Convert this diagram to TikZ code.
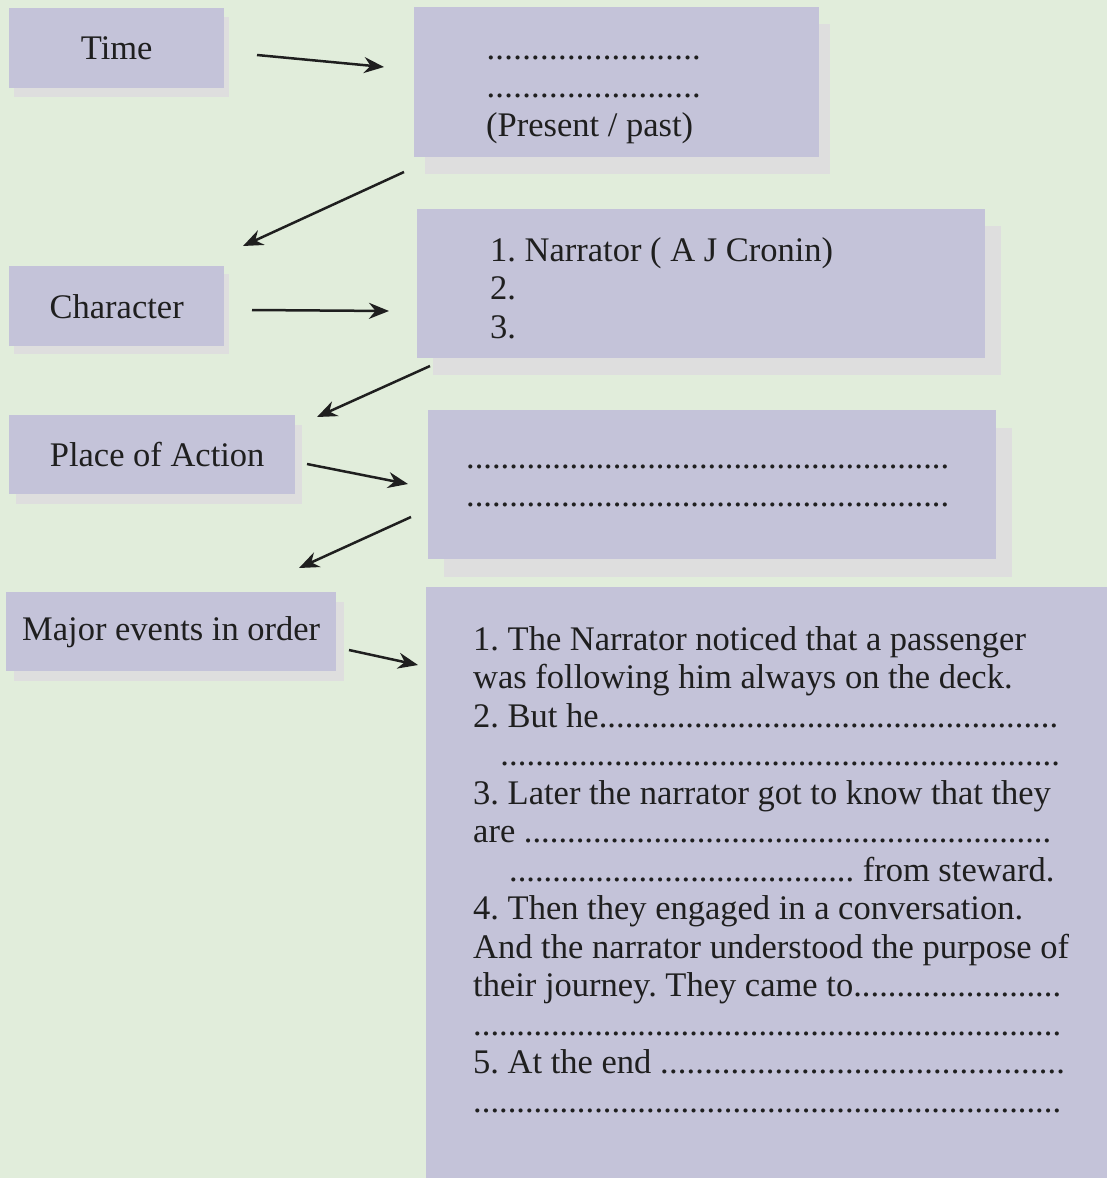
\documentclass[tikz,border=0pt]{standalone}
\usepackage{fontspec}
\setmainfont{Liberation Serif}
\usetikzlibrary{arrows.meta,shadows}
\definecolor{mypalegreen}{RGB}{225,237,219}
\definecolor{mylavender}{RGB}{196,195,217}
\definecolor{myshadowgrey}{RGB}{222,222,222}
% a run of dots of a given width, and a text followed by dots up to a given width
\newcommand{\dotrun}[1]{\makebox[#1][l]{\xleaders\hbox{.}\hfill}}
\newcommand{\gapline}[2]{\makebox[#1][l]{#2\xleaders\hbox{.}\hfill}}

\begin{document}
\begin{tikzpicture}[x=1pt, y=-1pt, % one unit = one pixel of the sheet
    card/.style={fill=mylavender, anchor=north west, inner sep=0pt, align=center},
    lifted/.style 2 args={drop shadow={shadow xshift=#1pt, shadow yshift=-#2pt, fill=myshadowgrey, opacity=1}},
    link/.style={-{Stealth[length=20pt, width=16pt]}, line width=2.5pt, draw=black!88},
    every node/.style={font=\fontsize{34.5}{38.5}\selectfont\frenchspacing, text=black!88}]
  % Sheet and its background
  \useasboundingbox (0,0) rectangle (1107,1178);
  \fill[mypalegreen] (0,0) rectangle (1107,1178);

  % Left column: the headings
  \node[card, lifted={5}{9}, minimum width=215pt, minimum height=80pt] (time) at (9,8) {Time};
  \node[card, lifted={5}{8}, minimum width=215pt, minimum height=80pt] (chr) at (9,266) {Character};
  \node[card, lifted={7}{10}, minimum width=286pt, minimum height=79pt] (place) at (9,415) {\hspace*{10pt}Place of Action};
  \node[card, lifted={8}{10}, minimum width=330pt, minimum height=79pt] (major) at (6,592) {Major events in order};

  % Right column: the boxes to fill in
  \node[card, lifted={11}{17}, minimum width=405pt, minimum height=150pt] (timeVal) at (414,7) {};
  \node[card, lifted={16}{17}, minimum width=568pt, minimum height=149pt] (chrVal) at (417,209) {};
  \node[card, lifted={16}{18}, minimum width=568pt, minimum height=149pt] (placeVal) at (428,410) {};
  \node[card, minimum width=681pt, minimum height=591pt] (majorVal) at (426,587) {};

  % Texts in the right column
  \node[anchor=base west, inner sep=0pt] (timeText) at (486,59)
    {\parbox[t]{320pt}{\dotrun{215pt}\\\dotrun{215pt}\\(Present / past)}};
  \node[anchor=base west, inner sep=0pt] (chrText) at (490,261)
    {\parbox[t]{460pt}{1. Narrator ( A J Cronin)\\2.\\3.}};
  \node[anchor=base west, inner sep=0pt] (placeText) at (466,468)
    {\parbox[t]{500pt}{\dotrun{483pt}\\\dotrun{483pt}}};
  \node[anchor=base west, inner sep=0pt] (majorText) at (473,650)
    {\parbox[t]{634pt}{%
      1. The Narrator noticed that a passenger\\
      was following him always on the deck.\\
      \gapline{585pt}{2. But he}\\
      \hspace*{27pt}\dotrun{560pt}\\
      3. Later the narrator got to know that they\\
      \gapline{578pt}{are }\\
      \hspace*{36pt}\dotrun{345pt} from steward.\\
      4. Then they engaged in a conversation.\\
      And the narrator understood the purpose of\\
      \gapline{588pt}{their journey. They came to}\\
      \dotrun{588pt}\\
      \gapline{592pt}{5. At the end }\\
      \dotrun{588pt}}};

  % Ends of the arrows
  \coordinate (timeOut) at (257,55);   \coordinate (timeIn) at (384,67);
  \coordinate (timeBack) at (404,172); \coordinate (chrDown) at (243,246);
  \coordinate (chrOut) at (252,310);   \coordinate (chrIn) at (389,311);
  \coordinate (chrBack) at (430,366);  \coordinate (placeDown) at (317,417);
  \coordinate (placeOut) at (307,464); \coordinate (placeIn) at (408,484);
  \coordinate (placeBack) at (411,517); \coordinate (majorDown) at (299,568);
  \coordinate (majorOut) at (349,650); \coordinate (majorIn) at (418,665);

  % Arrows between the boxes
  \draw[link] (timeOut) -- (timeIn);
  \draw[link] (timeBack) -- (chrDown);
  \draw[link] (chrOut) -- (chrIn);
  \draw[link] (chrBack) -- (placeDown);
  \draw[link] (placeOut) -- (placeIn);
  \draw[link] (placeBack) -- (majorDown);
  \draw[link] (majorOut) -- (majorIn);
\end{tikzpicture}
\end{document}
